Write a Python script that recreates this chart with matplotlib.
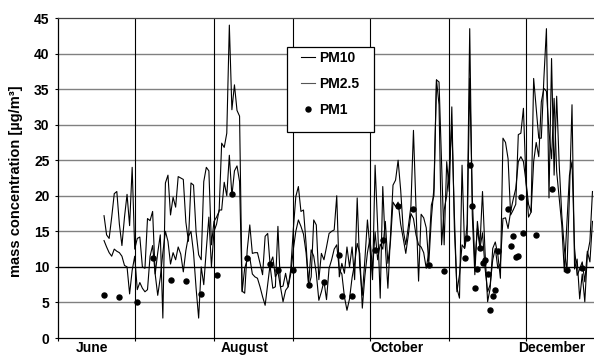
import numpy as np
import pandas as pd
import matplotlib
matplotlib.use('Agg')
import matplotlib.pyplot as plt
from matplotlib.lines import Line2D
from matplotlib.patches import Rectangle

plt.rcParams['font.family'] = ['Liberation Sans', 'DejaVu Sans']
plt.rcParams['font.weight'] = 'bold'

# daily means, first day 19 June
first_day = '2005-06-19'
season_start = '2005-06-01'

pm10 = [
    17.2, 14.5, 14.0, 17.0, 20.3, 20.6, 16.0, 13.0, 17.0, 20.2, 15.8, 24.0,
    12.5, 14.0, 14.2, 10.0, 9.8, 16.8, 16.5,
    17.8, 9.0, 12.0, 14.5, 2.8, 21.8, 22.9, 17.3, 19.8, 18.4,
    22.7, 22.5, 22.3, 16.3, 13.6, 21.8, 21.5, 14.9, 11.7, 11.0,
    22.0, 24.0, 23.5, 13.1, 16.4, 17.0, 17.8, 27.4, 26.8, 28.8,
    44.0, 32.1, 35.6, 32.0, 31.2, 6.6, 6.3, 12.4, 15.9, 11.9,
    12.0, 12.0, 10.5, 8.9, 14.3, 14.7, 10.0, 7.0, 7.2, 15.7,
    7.2, 7.3, 9.1, 7.2, 9.6, 15.2, 19.9, 21.3, 17.8, 18.0,
    13.3, 7.2, 8.6, 16.6, 15.9, 8.2, 11.9, 11.0, 12.8, 14.7,
    15.0, 15.2, 20.0, 8.6, 10.5, 9.1, 12.8, 10.0, 12.8, 8.2,
    19.7, 10.0, 6.0, 11.0, 16.6, 12.6, 8.2, 24.3, 15.7, 5.6,
    21.3, 12.9, 7.0, 14.3, 21.5, 22.2, 25.0, 20.8, 15.2, 13.1,
    15.7, 18.5, 29.2, 18.2, 8.0, 17.4, 16.9, 15.5, 10.5, 16.8,
    21.1, 36.3, 36.0, 24.3, 13.1, 24.8, 20.6, 32.5, 15.4, 7.0,
    5.6, 24.3, 12.6, 16.0, 43.5, 17.3, 8.9, 16.4, 13.0, 20.6,
    12.0, 5.1, 7.0, 12.6, 13.5, 11.7, 8.4, 28.1, 27.5, 25.2,
    17.3, 18.0, 18.8, 28.6, 28.8, 32.3, 22.0, 17.0, 17.7, 36.5,
    32.3, 28.1, 28.1, 36.5, 43.5, 19.7, 39.3, 22.9, 34.0, 24.3,
    17.3, 12.6, 9.3, 20.1, 32.8, 9.7, 11.1, 5.5, 9.0, 5.1,
    11.7, 13.6, 20.6,
]

pm25 = [
    13.7, 12.8, 12.0, 11.5, 12.5, 12.2, 12.0, 11.5, 10.2, 10.0, 6.2, 9.5,
    11.5, 6.8, 7.8, 7.0, 6.5, 6.8, 11.5,
    13.0, 9.0, 6.0, 8.5, 12.0, 15.0, 13.6, 10.4, 12.0, 11.0,
    12.8, 11.8, 9.3, 12.3, 14.3, 15.0, 12.0, 7.0, 2.8, 10.0,
    7.5, 12.5, 17.0, 10.0, 15.0, 16.0, 18.0, 18.0, 21.9, 20.0,
    25.7, 20.0, 23.5, 24.2, 22.0, 6.5, 9.8, 11.0, 11.3, 9.0,
    8.6, 8.4, 7.2, 5.8, 4.6, 7.5, 10.5, 11.4, 8.6, 9.3,
    7.2, 5.1, 6.7, 7.2, 9.0, 12.4, 15.0, 16.6, 15.7, 14.6,
    12.0, 7.7, 12.4, 11.5, 9.1, 5.3, 6.5, 8.0, 5.4, 9.8,
    11.0, 12.5, 13.1, 9.6, 9.0, 5.8, 3.9, 5.5, 8.5, 10.5,
    13.3, 11.9, 4.2, 8.7, 12.0, 14.0, 9.5, 14.9, 11.0, 13.2,
    12.5, 16.4, 10.5, 13.5, 19.1, 18.5, 19.1, 16.0, 14.0, 11.9,
    14.5, 17.5, 16.8, 14.5, 13.1, 12.8, 12.0, 9.8, 12.1, 18.7,
    20.0, 36.3, 32.8, 13.1, 18.0, 20.0, 23.9, 30.0, 17.3, 6.5,
    8.9, 13.1, 12.6, 14.5, 36.5, 20.0, 10.4, 15.4, 12.6, 14.8,
    9.8, 6.5, 7.5, 11.0, 12.6, 9.8, 10.5, 16.8, 16.9, 15.4,
    17.8, 19.5, 21.0, 24.8, 25.5, 24.8, 22.0, 18.8, 17.7, 24.8,
    27.5, 25.5, 33.2, 35.1, 34.7, 29.0, 25.2, 33.7, 23.4, 19.6,
    15.9, 9.3, 16.0, 22.9, 24.8, 12.6, 8.8, 9.7, 10.7, 7.9,
    12.2, 10.7, 16.4,
]

# PM1 samples: days after 1 June and values
pm1_day = [18, 24, 31, 37, 44, 50, 56, 62, 68, 74, 83, 86, 92, 98, 104, 110, 111,
           115, 124, 127, 133, 139, 145, 151, 159, 160, 161, 162, 163, 164, 165,
           166, 167, 168, 169, 170, 171, 172, 176, 177, 178, 179, 180, 181, 182,
           187, 193, 199, 205]
pm1 = [6.1, 5.8, 5.1, 11.2, 8.2, 8.0, 6.2, 8.8, 20.3, 11.2, 10.4, 9.6, 9.6, 7.5, 7.9,
       11.7, 5.85, 5.85, 12.4, 13.8, 18.6, 18.1, 10.2, 9.4, 11.2, 14.1, 24.3, 18.5,
       7.0, 9.7, 12.7, 10.6, 10.9, 9.0, 4.0, 5.95, 6.7, 12.2, 18.1, 13.0, 14.4, 11.4,
       11.5, 19.8, 14.8, 14.5, 21.0, 9.6, 9.8]

month_names = ['June', 'August', 'October', 'December']
label_after_start = [13.5, 12.0, 10.5, 10.0]   # days after the 1st of the month

start = pd.Timestamp(season_start)
days10 = pd.date_range(first_day, periods=len(pm10), freq='D')
days25 = pd.date_range(first_day, periods=len(pm25), freq='D')
days1 = start + pd.to_timedelta(pm1_day, unit='D')
month_starts = pd.date_range(season_start, periods=7, freq='MS')
label_dates = [pd.Timestamp(f'2005-{m:02d}-01') + pd.Timedelta(days=d)
               for m, d in zip([6, 8, 10, 12], label_after_start)]

fig = plt.figure(figsize=(5.94, 3.58), dpi=100)
ax = fig.add_axes([58 / 594, 20 / 358, 536 / 594, 320 / 358])

# grid
for v in range(5, 45, 5):
    ax.axhline(v, color='black' if v == 10 else '#808080', lw=1.0, zorder=1)
for m in month_starts[1:]:
    ax.axvline(m, color='black', lw=0.8, zorder=1)

ax.plot(days10, pm10, color='black', lw=0.8, zorder=3)
ax.plot(days25, pm25, color='black', lw=0.8, zorder=3)
ax.plot(days1, pm1, 'o', color='black', ms=3.6, zorder=4)

ax.set_ylim(0, 45)
ax.set_xlim(start, start + pd.Timedelta(days=209.6))
ax.set_yticks(range(0, 50, 5))
ax.tick_params(axis='y', labelsize=10, length=2.5, width=0.8, pad=3.5, direction='out')

ax.set_xticks(month_starts)
ax.set_xticklabels([''] * len(month_starts))
ax.tick_params(axis='x', which='major', length=2.5, width=0.8, direction='out')
ax.set_xticks(label_dates, minor=True)
ax.set_xticklabels(month_names, minor=True)
ax.tick_params(axis='x', which='minor', length=0, labelsize=10, pad=2)

ax.set_ylabel('mass concentration [µg/m³]', fontsize=10.5, fontweight='bold')
ax.yaxis.set_label_coords(-0.066, 0.49)

ax.spines['right'].set_visible(False)
ax.spines['top'].set_color('#404040')
for s in ['left', 'bottom', 'top']:
    ax.spines[s].set_linewidth(0.9)

# legend with its own box
ax.add_patch(Rectangle((0.427, 0.644), 0.162, 0.265, transform=ax.transAxes,
                       facecolor='white', edgecolor='black', lw=0.9, zorder=5))
handles = [Line2D([], [], color='black', lw=0.8),
           Line2D([], [], color='#555555', lw=0.8),
           Line2D([], [], ls='', marker='o', color='black', ms=3.6)]
leg = ax.legend(handles, ['PM10', 'PM2.5', 'PM1'], loc='upper left',
                bbox_to_anchor=(0.453, 0.897), borderaxespad=0, borderpad=0,
                frameon=False, handlelength=1.0, handletextpad=0.35,
                labelspacing=0.85, prop={'weight': 'bold', 'size': 10})
leg.set_zorder(6)

fig.savefig('out.png', dpi=100)
